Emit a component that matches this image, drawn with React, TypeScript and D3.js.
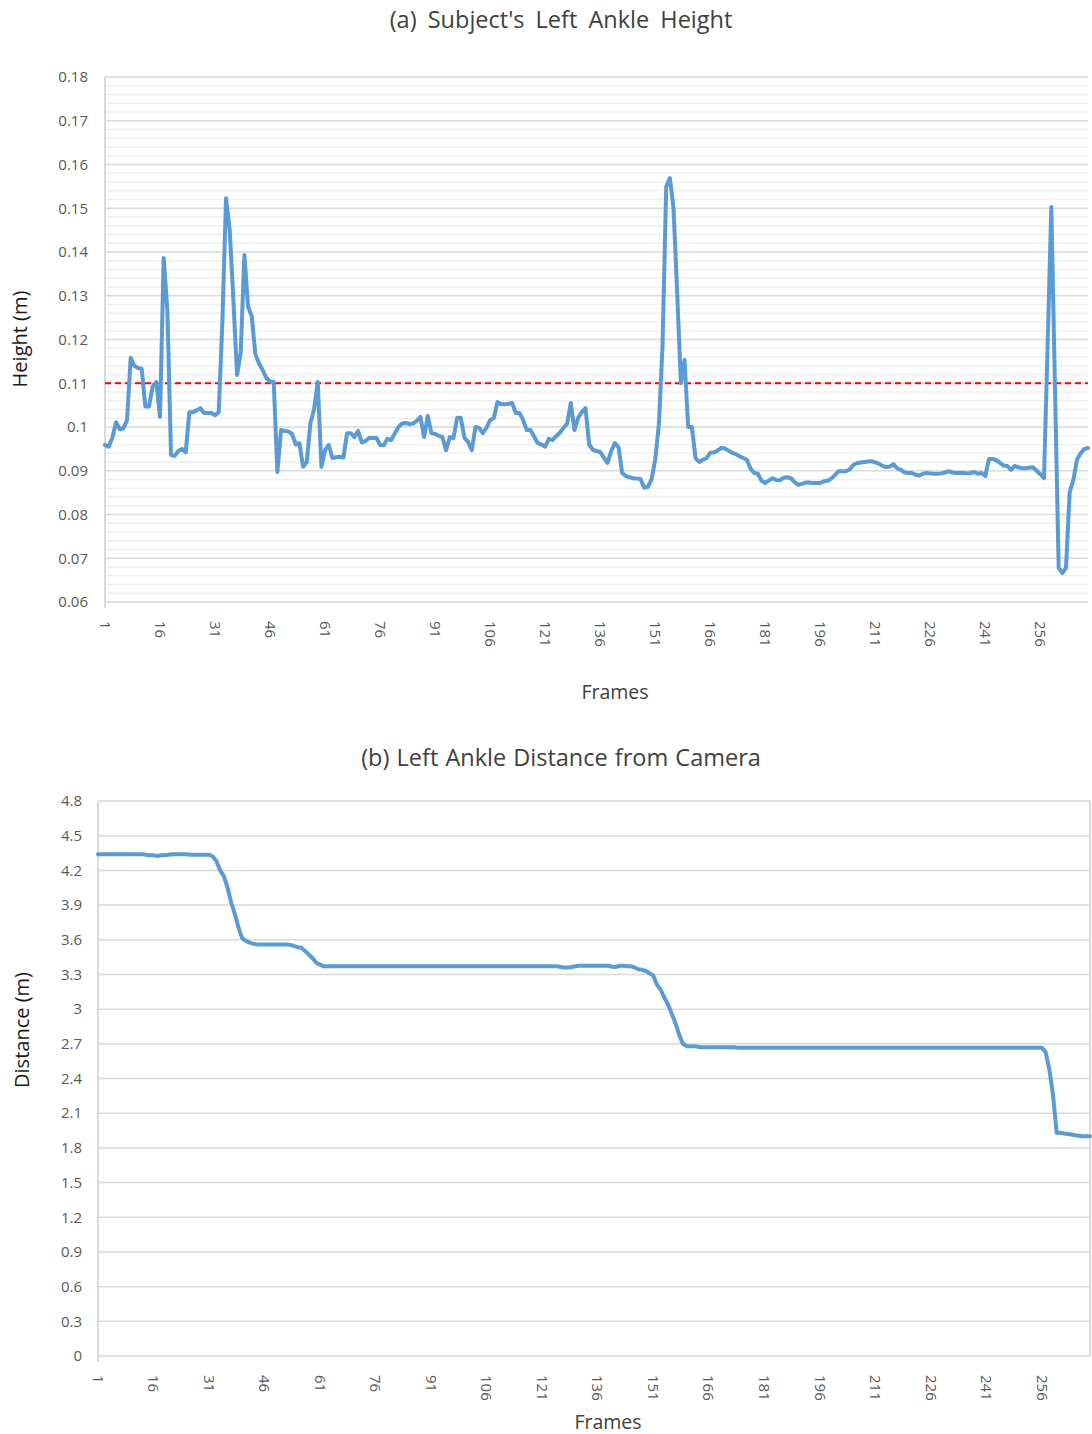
import React from 'react';
import * as d3 from 'd3';

// frames 1..269 on a category axis, labelled every 15
const frames = d3.range(1, 270);
const frameTicks = [1, 16, 31, 46, 61, 76, 91, 106, 121, 136, 151, 166, 181, 196, 211, 226, 241, 256];

// (a) left ankle height (m), one value per frame
const ankleHeight = [
  0.0959, 0.0955, 0.0975, 0.1011, 0.0995, 0.0997, 0.1015, 0.1158, 0.1140, 0.1135,
  0.1133, 0.1047, 0.1047, 0.1093, 0.1103, 0.1023, 0.1386, 0.1267, 0.0936, 0.0934,
  0.0945, 0.0950, 0.0942, 0.1034, 0.1034, 0.1038, 0.1043, 0.1032, 0.1032, 0.1032,
  0.1027, 0.1034, 0.1240, 0.1523, 0.1450, 0.1290, 0.1119, 0.1170, 0.1393, 0.1276,
  0.1253, 0.1166, 0.1145, 0.1130, 0.1112, 0.1104, 0.1103, 0.0897, 0.0993, 0.0991,
  0.0990, 0.0984, 0.0960, 0.0963, 0.0909, 0.0920, 0.1009, 0.1040, 0.1103, 0.0909,
  0.0947, 0.0959, 0.0929, 0.0931, 0.0932, 0.0930, 0.0986, 0.0986, 0.0977, 0.0991,
  0.0965, 0.0968, 0.0975, 0.0975, 0.0975, 0.0959, 0.0958, 0.0973, 0.0970, 0.0985,
  0.1000, 0.1008, 0.1009, 0.1007, 0.1008, 0.1014, 0.1023, 0.0977, 0.1025, 0.0986,
  0.0984, 0.0980, 0.0977, 0.0947, 0.0977, 0.0975, 0.1021, 0.1021, 0.0975, 0.0966,
  0.0947, 0.1000, 0.0998, 0.0986, 0.0998, 0.1016, 0.1020, 0.1057, 0.1052, 0.1052,
  0.1053, 0.1055, 0.1032, 0.1032, 0.1016, 0.0993, 0.0993, 0.0978, 0.0963, 0.0960,
  0.0955, 0.0973, 0.0970, 0.0979, 0.0987, 0.0998, 0.1008, 0.1055, 0.0993, 0.1021,
  0.1034, 0.1043, 0.0960, 0.0948, 0.0945, 0.0943, 0.0930, 0.0918, 0.0945, 0.0963,
  0.0954, 0.0895, 0.0888, 0.0885, 0.0883, 0.0882, 0.0881, 0.0861, 0.0863, 0.0880,
  0.0925, 0.1005, 0.1185, 0.1549, 0.1569, 0.1500, 0.1306, 0.1100, 0.1153, 0.1000,
  0.1000, 0.0929, 0.0920, 0.0925, 0.0929, 0.0941, 0.0942, 0.0946, 0.0952, 0.0951,
  0.0946, 0.0941, 0.0938, 0.0933, 0.0929, 0.0925, 0.0905, 0.0895, 0.0893, 0.0877,
  0.0872, 0.0878, 0.0883, 0.0879, 0.0878, 0.0884, 0.0885, 0.0883, 0.0874, 0.0868,
  0.0870, 0.0873, 0.0873, 0.0872, 0.0872, 0.0872, 0.0876, 0.0877, 0.0882, 0.0890,
  0.0899, 0.0899, 0.0899, 0.0903, 0.0913, 0.0917, 0.0919, 0.0920, 0.0921, 0.0922,
  0.0919, 0.0916, 0.0911, 0.0908, 0.0910, 0.0915, 0.0905, 0.0902, 0.0896, 0.0895,
  0.0895, 0.0891, 0.0889, 0.0893, 0.0895, 0.0894, 0.0893, 0.0893, 0.0894, 0.0896,
  0.0899, 0.0896, 0.0895, 0.0895, 0.0895, 0.0894, 0.0895, 0.0897, 0.0893, 0.0895,
  0.0888, 0.0927, 0.0927, 0.0924, 0.0918, 0.0912, 0.0911, 0.0902, 0.0911, 0.0908,
  0.0906, 0.0906, 0.0907, 0.0908, 0.0900, 0.0892, 0.0883, 0.1190, 0.1503, 0.1090,
  0.0678, 0.0666, 0.0678, 0.0851, 0.0879, 0.0925, 0.0940, 0.0950, 0.0952,
];
const heightThreshold = 0.11;
const heightTicks = [0.06, 0.07, 0.08, 0.09, 0.1, 0.11, 0.12, 0.13, 0.14, 0.15, 0.16, 0.17, 0.18];

// (b) left ankle distance from camera (m)
const ankleDistance = [
  4.34, 4.34, 4.34, 4.34, 4.34, 4.34, 4.34, 4.34, 4.34, 4.34,
  4.34, 4.34, 4.34, 4.335, 4.33, 4.33, 4.325, 4.33, 4.33, 4.335,
  4.34, 4.34, 4.34, 4.34, 4.34, 4.335, 4.335, 4.335, 4.335, 4.335,
  4.335, 4.32, 4.28, 4.2, 4.15, 4.05, 3.92, 3.82, 3.7, 3.61,
  3.59, 3.575, 3.565, 3.56, 3.56, 3.56, 3.56, 3.56, 3.56, 3.56,
  3.56, 3.56, 3.555, 3.545, 3.535, 3.53, 3.5, 3.47, 3.44, 3.4,
  3.385, 3.37, 3.37, 3.37, 3.37, 3.37, 3.37, 3.37, 3.37, 3.37,
  3.37, 3.37, 3.37, 3.37, 3.37, 3.37, 3.37, 3.37, 3.37, 3.37,
  3.37, 3.37, 3.37, 3.37, 3.37, 3.37, 3.37, 3.37, 3.37, 3.37,
  3.37, 3.37, 3.37, 3.37, 3.37, 3.37, 3.37, 3.37, 3.37, 3.37,
  3.37, 3.37, 3.37, 3.37, 3.37, 3.37, 3.37, 3.37, 3.37, 3.37,
  3.37, 3.37, 3.37, 3.37, 3.37, 3.37, 3.37, 3.37, 3.37, 3.37,
  3.37, 3.37, 3.37, 3.37, 3.37, 3.365, 3.36, 3.36, 3.365, 3.37,
  3.375, 3.375, 3.375, 3.375, 3.375, 3.375, 3.375, 3.375, 3.375, 3.365,
  3.365, 3.375, 3.375, 3.37, 3.37, 3.36, 3.345, 3.34, 3.33, 3.31,
  3.29, 3.21, 3.17, 3.1, 3.04, 2.96, 2.88, 2.78, 2.7, 2.68,
  2.68, 2.68, 2.675, 2.67, 2.67, 2.67, 2.67, 2.67, 2.67, 2.67,
  2.67, 2.67, 2.67, 2.665, 2.665, 2.665, 2.665, 2.665, 2.665, 2.665,
  2.665, 2.665, 2.665, 2.665, 2.665, 2.665, 2.665, 2.665, 2.665, 2.665,
  2.665, 2.665, 2.665, 2.665, 2.665, 2.665, 2.665, 2.665, 2.665, 2.665,
  2.665, 2.665, 2.665, 2.665, 2.665, 2.665, 2.665, 2.665, 2.665, 2.665,
  2.665, 2.665, 2.665, 2.665, 2.665, 2.665, 2.665, 2.665, 2.665, 2.665,
  2.665, 2.665, 2.665, 2.665, 2.665, 2.665, 2.665, 2.665, 2.665, 2.665,
  2.665, 2.665, 2.665, 2.665, 2.665, 2.665, 2.665, 2.665, 2.665, 2.665,
  2.665, 2.665, 2.665, 2.665, 2.665, 2.665, 2.665, 2.665, 2.665, 2.665,
  2.665, 2.665, 2.665, 2.665, 2.665, 2.665, 2.63, 2.48, 2.26, 1.93,
  1.93, 1.925, 1.92, 1.915, 1.91, 1.905, 1.9, 1.9, 1.9,
];
const distanceTicks = [0, 0.3, 0.6, 0.9, 1.2, 1.5, 1.8, 2.1, 2.4, 2.7, 3, 3.3, 3.6, 3.9, 4.2, 4.5, 4.8];

const FONT = '"Open Sans", "Noto Sans", sans-serif';
const fmt = (v: number) => String(+v.toFixed(3));

type PanelProps = {
  title: string;
  titleY: number;
  titleSpacing: number;
  yTitle: string;
  yTitleY: number;
  values: number[];
  yTicks: number[];
  minorStep?: number;
  threshold?: number;
  left: number;
  right: number;
  top: number;
  bottom: number;
  yLabelX: number;
  yTitleX: number;
  framesX: number;
  framesY: number;
  border?: boolean;
};

const Panel = (p: PanelProps) => {
  const x = d3.scalePoint<number>().domain(frames).range([p.left, p.right]);
  const y = d3
    .scaleLinear()
    .domain([p.yTicks[0], p.yTicks[p.yTicks.length - 1]])
    .range([p.bottom, p.top]);

  const line = d3
    .line<number>()
    .x((_, i) => x(frames[i]) as number)
    .y(d => y(d));

  const minor: number[] = [];
  if (p.minorStep) {
    const [lo, hi] = y.domain();
    const n = Math.round((hi - lo) / p.minorStep);
    for (let i = 1; i < n; i++) {
      if (i % 5 !== 0) minor.push(lo + i * p.minorStep);
    }
  }

  return (
    <g fontFamily={FONT}>
      <text x={561} y={p.titleY} textAnchor="middle" fontSize={23.5} fill="#404040" wordSpacing={p.titleSpacing}>
        {p.title}
      </text>

      {minor.map(v => (
        <line key={'m' + v} x1={p.left} x2={p.right} y1={y(v)} y2={y(v)} stroke="#efefef" strokeWidth={1.5} />
      ))}
      {p.yTicks.map(v => (
        <line key={'g' + v} x1={p.left} x2={p.right} y1={y(v)} y2={y(v)} stroke="#d9d9d9" strokeWidth={1.5} />
      ))}
      <line x1={p.left} x2={p.left} y1={p.top} y2={p.bottom + 6} stroke="#d9d9d9" strokeWidth={2} />
      {p.border && (
        <line x1={p.right} x2={p.right} y1={p.top} y2={p.bottom} stroke="#d9d9d9" strokeWidth={2} />
      )}

      {p.yTicks.map(v => (
        <text key={'t' + v} x={p.yLabelX} y={y(v)} dy="0.35em" textAnchor="end" fontSize={15} fill="#595959">
          {fmt(v)}
        </text>
      ))}
      <text
        transform={`translate(${p.yTitleX},${p.yTitleY}) rotate(-90)`}
        textAnchor="middle"
        dy="0.35em"
        fontSize={20}
        fill="#1a1a1a"
      >
        {p.yTitle}
      </text>

      {frameTicks.map(f => (
        <text
          key={'f' + f}
          transform={`translate(${x(f)},${p.bottom + 19}) rotate(90)`}
          dy="0.35em"
          fontSize={15}
          fill="#595959"
        >
          {f}
        </text>
      ))}
      <text x={p.framesX} y={p.framesY} textAnchor="middle" fontSize={19.5} fill="#404040">
        Frames
      </text>

      {p.threshold !== undefined && (
        <line
          x1={p.left}
          x2={p.right}
          y1={y(p.threshold)}
          y2={y(p.threshold)}
          stroke="#ff0000"
          strokeWidth={1.8}
          strokeDasharray="6,4"
        />
      )}
      <path
        d={line(p.values) ?? ''}
        fill="none"
        stroke="#5b9bd5"
        strokeWidth={4}
        strokeLinejoin="round"
        strokeLinecap="round"
      />
    </g>
  );
};

const App = () => {
  return (
    <svg
      width={1092}
      height={1434}
      style={{ position: 'absolute', left: 0, top: 0, background: '#fff' }}
    >
      <rect width={1092} height={1434} fill="#fff" />
      <Panel
        title="(a) Subject's Left Ankle Height"
        titleY={28}
        titleSpacing={5}
        yTitle="Height (m)"
        yTitleY={339}
        values={ankleHeight}
        yTicks={heightTicks}
        minorStep={0.002}
        threshold={heightThreshold}
        left={105}
        right={1088}
        top={77}
        bottom={602}
        yLabelX={88}
        yTitleX={20}
        framesX={615}
        framesY={699}
      />
      <Panel
        title="(b) Left Ankle Distance from Camera"
        titleY={766}
        titleSpacing={1}
        yTitle="Distance (m)"
        yTitleY={1030}
        values={ankleDistance}
        yTicks={distanceTicks}
        left={98}
        right={1090}
        top={801}
        bottom={1356}
        yLabelX={82}
        yTitleX={22}
        framesX={608}
        framesY={1429}
        border
      />
    </svg>
  );
};

export default App;
